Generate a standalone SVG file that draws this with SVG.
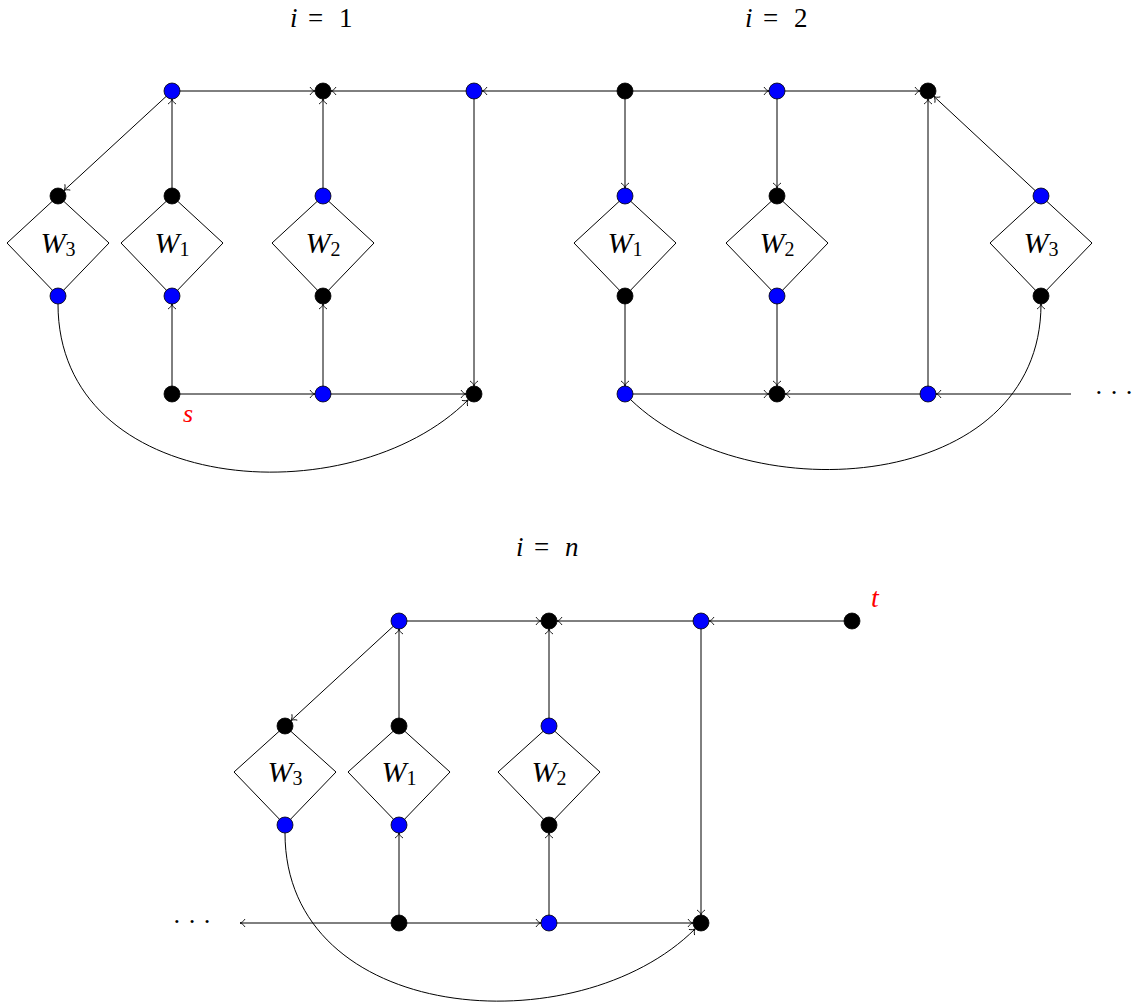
<svg xmlns="http://www.w3.org/2000/svg" width="1138" height="1006" viewBox="0 0 1138 1006">
<defs>
<marker id="to" viewBox="-6 -5 7 10" markerWidth="7" markerHeight="10" refX="0" refY="0" orient="auto" markerUnits="userSpaceOnUse">
<path d="M -5 -4 C -3.5 -1.5 -1.5 -0.4 0 0 C -1.5 0.4 -3.5 1.5 -5 4" fill="none" stroke="#000" stroke-width="0.9"/>
</marker>
</defs>
<style>
.e{fill:none;stroke:#000;stroke-width:1;marker-end:url(#to)}
.d{fill:#fff;stroke:#000;stroke-width:1}
.b{fill:#0000ff;stroke:#000;stroke-width:0.8}
.k{fill:#000;stroke:#000;stroke-width:0.8}
.t{fill:#000;font-family:'Liberation Serif',serif}
.w{fill:#000;text-anchor:middle;font-family:'Liberation Serif',serif}
.red{fill:#ff0000;font-style:italic;text-anchor:middle;font-family:'Liberation Serif',serif}
.dots{fill:#000;font-size:26px;text-anchor:middle;font-family:'Liberation Serif',serif}
</style>
<rect width="1138" height="1006" fill="#fff"/>

<g id="titles">
<text class="t" font-size="27"><tspan x="290" y="27" font-style="italic">i</tspan><tspan x="308" y="27">=</tspan><tspan x="339" y="27">1</tspan></text>
<text class="t" font-size="27"><tspan x="745" y="27" font-style="italic">i</tspan><tspan x="763" y="27">=</tspan><tspan x="794" y="27">2</tspan></text>
<text class="t" font-size="27"><tspan x="516" y="556" font-style="italic">i</tspan><tspan x="534" y="556">=</tspan><tspan x="565" y="556" font-style="italic">n</tspan></text>
</g>

<g id="diamonds">
<g id="p1-W3"><polygon class="d" points="58,196 109,243 58,296 7,243"/><text class="w" x="58" y="253"><tspan font-style="italic" font-size="30">W</tspan><tspan font-size="20" dy="3">3</tspan></text></g>
<g id="p1-W1"><polygon class="d" points="172,196 223,243 172,296 121,243"/><text class="w" x="172" y="253"><tspan font-style="italic" font-size="30">W</tspan><tspan font-size="20" dy="3">1</tspan></text></g>
<g id="p1-W2"><polygon class="d" points="323,196 374,243 323,296 272,243"/><text class="w" x="323" y="253"><tspan font-style="italic" font-size="30">W</tspan><tspan font-size="20" dy="3">2</tspan></text></g>
<g id="p2-W1"><polygon class="d" points="625,196 676,243 625,296 574,243"/><text class="w" x="625" y="253"><tspan font-style="italic" font-size="30">W</tspan><tspan font-size="20" dy="3">1</tspan></text></g>
<g id="p2-W2"><polygon class="d" points="777,196 828,243 777,296 726,243"/><text class="w" x="777" y="253"><tspan font-style="italic" font-size="30">W</tspan><tspan font-size="20" dy="3">2</tspan></text></g>
<g id="p2-W3"><polygon class="d" points="1041,196 1092,243 1041,296 990,243"/><text class="w" x="1041" y="253"><tspan font-style="italic" font-size="30">W</tspan><tspan font-size="20" dy="3">3</tspan></text></g>
<g id="pn-W3"><polygon class="d" points="285,726 336,772 285,825 234,772"/><text class="w" x="285" y="782"><tspan font-style="italic" font-size="30">W</tspan><tspan font-size="20" dy="3">3</tspan></text></g>
<g id="pn-W1"><polygon class="d" points="399,726 450,772 399,825 348,772"/><text class="w" x="399" y="782"><tspan font-style="italic" font-size="30">W</tspan><tspan font-size="20" dy="3">1</tspan></text></g>
<g id="pn-W2"><polygon class="d" points="549,726 600,772 549,825 498,772"/><text class="w" x="549" y="782"><tspan font-style="italic" font-size="30">W</tspan><tspan font-size="20" dy="3">2</tspan></text></g>
</g>

<g id="connectors">
<path class="e" d="M172 91 L315 91"/>
<path class="e" d="M474 91 L331 91"/>
<path class="e" d="M625 91 L482 91"/>
<path class="e" d="M172 196 L172 99"/>
<path class="e" d="M172 91 L63.9 190.6"/>
<path class="e" d="M323 196 L323 99"/>
<path class="e" d="M172 394 L172 304"/>
<path class="e" d="M323 394 L323 304"/>
<path class="e" d="M172 394 L315 394"/>
<path class="e" d="M323 394 L466 394"/>
<path class="e" d="M474 91 L474 386"/>
<path class="e" d="M58 304 C58 495 350 518 468.3 399.7"/>

<path class="e" d="M625 91 L769 91"/>
<path class="e" d="M777 91 L920 91"/>
<path class="e" d="M625 91 L625 188"/>
<path class="e" d="M777 91 L777 188"/>
<path class="e" d="M625 296 L625 386"/>
<path class="e" d="M777 296 L777 386"/>
<path class="e" d="M625 394 L769 394"/>
<path class="e" d="M928 394 L785 394"/>
<path class="e" d="M1071 394 L936 394"/>
<path class="e" d="M928 394 L928 99"/>
<path class="e" d="M1041 196 L933.9 96.4"/>
<path class="e" d="M630.7 399.7 C749 514 1041 492 1041 304"/>

<path class="e" d="M399 621 L541 621"/>
<path class="e" d="M701 621 L557 621"/>
<path class="e" d="M852 621 L709 621"/>
<path class="e" d="M399 726 L399 629"/>
<path class="e" d="M399 621 L290.9 720.6"/>
<path class="e" d="M549 726 L549 629"/>
<path class="e" d="M399 923 L399 833"/>
<path class="e" d="M549 923 L549 833"/>
<path class="e" d="M399 923 L541 923"/>
<path class="e" d="M549 923 L693 923"/>
<path class="e" d="M701 621 L701 915"/>
<path class="e" d="M399 923 L240 923"/>
<path class="e" d="M285 833 C285 1024 577 1047 695.3 928.7"/>
</g>

<g id="nodes">
<g id="p1-top"><circle class="b" cx="172" cy="91" r="8"/><circle class="k" cx="323" cy="91" r="8"/><circle class="b" cx="474" cy="91" r="8"/></g>
<g id="p1-ports"><circle class="k" cx="58" cy="196" r="8"/><circle class="b" cx="58" cy="296" r="8"/><circle class="k" cx="172" cy="196" r="8"/><circle class="b" cx="172" cy="296" r="8"/><circle class="b" cx="323" cy="196" r="8"/><circle class="k" cx="323" cy="296" r="8"/></g>
<g id="p1-bottom"><circle class="k" cx="172" cy="394" r="8"/><circle class="b" cx="323" cy="394" r="8"/><circle class="k" cx="474" cy="394" r="8"/></g>
<g id="p2-top"><circle class="k" cx="625" cy="91" r="8"/><circle class="b" cx="777" cy="91" r="8"/><circle class="k" cx="928" cy="91" r="8"/></g>
<g id="p2-ports"><circle class="b" cx="625" cy="196" r="8"/><circle class="k" cx="625" cy="296" r="8"/><circle class="k" cx="777" cy="196" r="8"/><circle class="b" cx="777" cy="296" r="8"/><circle class="b" cx="1041" cy="196" r="8"/><circle class="k" cx="1041" cy="296" r="8"/></g>
<g id="p2-bottom"><circle class="b" cx="625" cy="394" r="8"/><circle class="k" cx="777" cy="394" r="8"/><circle class="b" cx="928" cy="394" r="8"/></g>
<g id="pn-top"><circle class="b" cx="399" cy="621" r="8"/><circle class="k" cx="549" cy="621" r="8"/><circle class="b" cx="701" cy="621" r="8"/><circle class="k" cx="852" cy="621" r="8"/></g>
<g id="pn-ports"><circle class="k" cx="285" cy="726" r="8"/><circle class="b" cx="285" cy="825" r="8"/><circle class="k" cx="399" cy="726" r="8"/><circle class="b" cx="399" cy="825" r="8"/><circle class="b" cx="549" cy="726" r="8"/><circle class="k" cx="549" cy="825" r="8"/></g>
<g id="pn-bottom"><circle class="k" cx="399" cy="923" r="8"/><circle class="b" cx="549" cy="923" r="8"/><circle class="k" cx="701" cy="923" r="8"/></g>
</g>

<g id="labels">
<text class="red" x="188" y="422" font-size="26">s</text>
<text class="red" x="875" y="607" font-size="28">t</text>
<text class="dots" x="1114" y="401">· · ·</text>
<text class="dots" x="192" y="930">· · ·</text>
</g>
</svg>
